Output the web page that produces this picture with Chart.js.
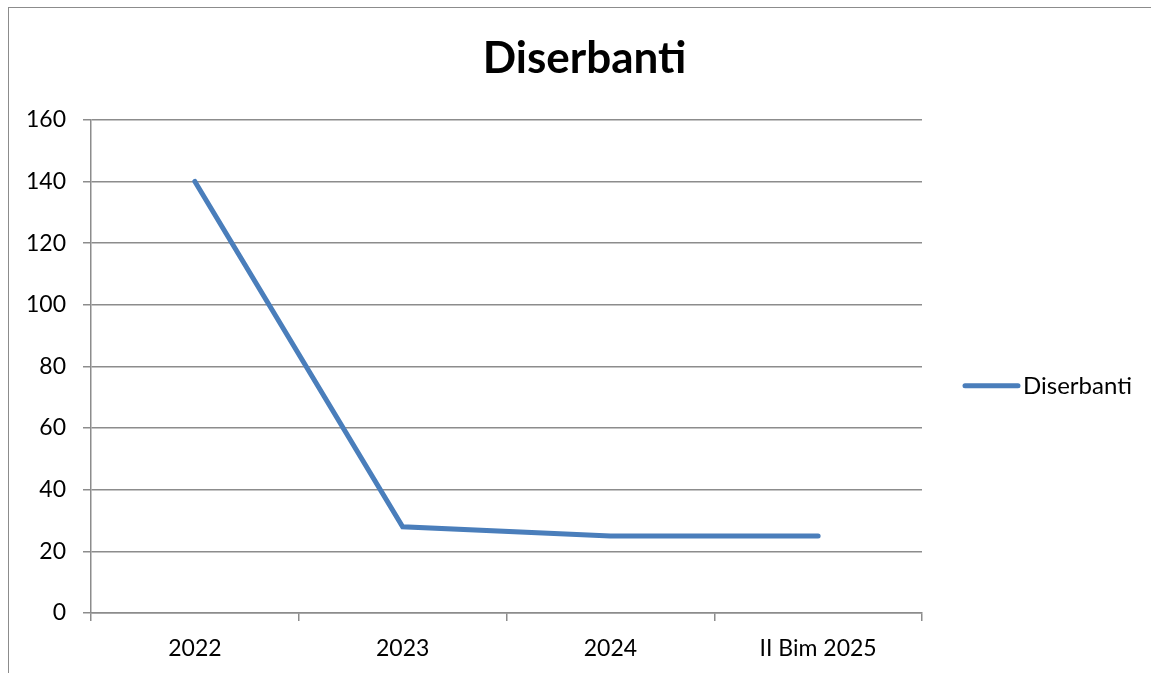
<!DOCTYPE html>
<html>
<head>
<meta charset="utf-8">
<script src="https://cdn.jsdelivr.net/npm/chart.js@4.4.1/dist/chart.umd.min.js"></script>
<style>
  html, body { margin: 0; padding: 0; background: #fff; }
  #wrap { position: relative; width: 1151px; height: 673px; overflow: hidden; }
  #frame { position: absolute; left: 8px; top: 7px; width: 1200px; height: 700px;
           border-left: 1px solid #8c8c8c; border-top: 1px solid #8c8c8c; }
  canvas { position: absolute; left: 0; top: 0; }
</style>
</head>
<body>
<div id="wrap">
  <div id="frame"></div>
  <canvas id="chart" width="1151" height="673"></canvas>
</div>
<script>
const categories = ["2022", "2023", "2024", "II Bim 2025"];
const seriesName = "Diserbanti";
const seriesValues = [140, 28, 25, 25];
const yTicks = [0, 20, 40, 60, 80, 100, 120, 140, 160];

const lineColor = "#4a7ebb";
const gridColor = "#8c8c8c";
const fontFamily = "Lato, 'Open Sans', sans-serif";

// legenda a destra, stile Excel (linea + testo)
const sideLegend = {
    id: "sideLegend",
    afterDraw(chart) {
        const ctx = chart.ctx;
        const area = chart.chartArea;
        const ds = chart.data.datasets[0];
        const x = area.right + 43;
        const y = area.top + 266;
        ctx.save();
        ctx.strokeStyle = ds.borderColor;
        ctx.lineWidth = ds.borderWidth;
        ctx.lineCap = "round";
        ctx.beginPath();
        ctx.moveTo(x, y);
        ctx.lineTo(x + 53, y);
        ctx.stroke();
        ctx.fillStyle = "#000";
        ctx.font = "24px " + fontFamily;
        ctx.textBaseline = "middle";
        ctx.fillText(ds.label, x + 58, y);
        ctx.restore();
    }
};

new Chart(document.getElementById("chart").getContext("2d"), {
    type: "line",
    data: {
        labels: categories,
        datasets: [{
            label: seriesName,
            data: seriesValues,
            borderColor: lineColor,
            backgroundColor: lineColor,
            borderWidth: 5,
            borderCapStyle: "round",
            pointRadius: 0,
            tension: 0
        }]
    },
    options: {
        responsive: false,
        animation: false,
        layout: { padding: { top: 0, right: 0, left: 18, bottom: 0 } },
        plugins: {
            legend: { display: false },
            tooltip: { enabled: false },
            title: {
                display: true,
                text: seriesName,
                color: "#000",
                font: { family: fontFamily, size: 44, weight: "bold" },
                padding: { top: 32, bottom: 35 }
            }
        },
        scales: {
            x: {
                offset: true,
                grid: {
                    offset: true,
                    drawOnChartArea: false,
                    drawTicks: true,
                    tickLength: 8,
                    color: gridColor,
                    lineWidth: 1.5
                },
                border: { display: true, color: gridColor, width: 1.5 },
                ticks: {
                    color: "#000",
                    font: { family: fontFamily, size: 23 },
                    padding: 14,
                    maxRotation: 0
                },
                afterFit(scale) { scale.height = 60; }
            },
            y: {
                min: 0,
                max: 160,
                afterBuildTicks(scale) {
                    scale.ticks = yTicks.map(v => ({ value: v }));
                },
                grid: {
                    color: gridColor,
                    lineWidth: 1.5,
                    tickLength: 8
                },
                border: { display: true, color: gridColor, width: 1.5 },
                ticks: {
                    color: "#000",
                    font: { family: fontFamily, size: 23 },
                    padding: 17
                },
                afterFit(scale) { scale.width = 73; }
            },
            // asse fittizio a destra: riserva lo spazio della legenda
            spacer: {
                position: "right",
                display: true,
                grid: { display: false },
                border: { display: false },
                ticks: { display: false },
                afterFit(scale) { scale.width = 229; }
            }
        }
    },
    plugins: [sideLegend]
});
</script>
</body>
</html>
